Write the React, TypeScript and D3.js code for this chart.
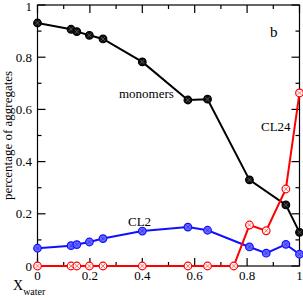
import { useEffect, useRef } from 'react';
import * as d3 from 'd3';

// x values (mole fraction of water) for each series
const xMono = [0, 0.128, 0.15, 0.198, 0.25, 0.4, 0.574, 0.649, 0.809, 0.948, 1.0];
const yMono = [0.931, 0.907, 0.898, 0.884, 0.87, 0.782, 0.636, 0.639, 0.33, 0.234, 0.129];

const xCL2 = [0, 0.128, 0.15, 0.198, 0.25, 0.4, 0.574, 0.649, 0.809, 0.873, 0.948, 1.0];
const yCL2 = [0.068, 0.078, 0.082, 0.092, 0.105, 0.134, 0.149, 0.137, 0.073, 0.049, 0.083, 0.045];

const xCL24 = [0, 0.128, 0.15, 0.198, 0.25, 0.4, 0.574, 0.649, 0.749, 0.809, 0.873, 0.948, 1.0];
const yCL24 = [0, 0, 0, 0, 0, 0, 0, 0, 0, 0.157, 0.135, 0.295, 0.663];

const xTicks = [0, 0.2, 0.4, 0.6, 0.8, 1];
const yTicks = [0, 0.2, 0.4, 0.6, 0.8, 1];

const App = () => {
  const ref = useRef<SVGSVGElement | null>(null);

  useEffect(() => {
    if (!ref.current) return;
    document.body.style.margin = '0';
    const svg = d3.select(ref.current);
    svg.selectAll('*').remove();

    const left = 37.5, right = 299.5, top = 5, bottom = 266;
    const x = d3.scaleLinear().domain([0, 1]).range([left, right]);
    const y = d3.scaleLinear().domain([0, 1]).range([bottom, top]);
    const font = "'Liberation Serif', 'Times New Roman', serif";

    // frame
    svg.append('rect')
      .attr('x', left).attr('y', top)
      .attr('width', right - left).attr('height', bottom - top)
      .attr('fill', 'none').attr('stroke', '#000').attr('stroke-width', 1.2);

    // inward ticks on all four sides
    const minor = d3.range(0, 1.0001, 0.1);
    minor.forEach((v, i) => {
      const len = i % 2 === 0 ? 8 : 4;
      const g = svg.append('g').attr('stroke', '#000').attr('stroke-width', 1.2);
      g.append('line').attr('x1', x(v)).attr('x2', x(v)).attr('y1', bottom).attr('y2', bottom - len);
      g.append('line').attr('x1', x(v)).attr('x2', x(v)).attr('y1', top).attr('y2', top + len);
      g.append('line').attr('y1', y(v)).attr('y2', y(v)).attr('x1', left).attr('x2', left + len);
      g.append('line').attr('y1', y(v)).attr('y2', y(v)).attr('x1', right).attr('x2', right - len);
    });

    svg.selectAll('text.xt').data(xTicks).enter().append('text')
      .attr('x', d => x(d)).attr('y', 280)
      .attr('text-anchor', 'middle')
      .attr('font-family', font).attr('font-size', 13)
      .text(d => d3.format('~g')(d));

    svg.selectAll('text.yt').data(yTicks).enter().append('text')
      .attr('x', 32).attr('y', d => Math.max(y(d) + 4.5, 11))
      .attr('text-anchor', 'end')
      .attr('font-family', font).attr('font-size', 13)
      .text(d => d3.format('~g')(d));

    // axis titles
    svg.append('text')
      .attr('transform', `translate(12, ${(top + bottom) / 2}) rotate(-90)`)
      .attr('text-anchor', 'middle')
      .attr('font-family', font).attr('font-size', 13)
      .text('percentage of aggregates');

    const xl = svg.append('text').attr('x', 13).attr('y', 290)
      .attr('font-family', font).attr('font-size', 14);
    xl.append('tspan').text('X');
    xl.append('tspan').attr('font-size', 10).attr('dy', 5).text('water');

    const line = d3.line<[number, number]>().x(d => x(d[0])).y(d => y(d[1]));

    const series = [
      { xs: xCL2, ys: yCL2, color: '#1010ff', fill: '#6b6bff' },
      { xs: xMono, ys: yMono, color: '#000', fill: '#111' },
      { xs: xCL24, ys: yCL24, color: '#ff0000', fill: '#fff' },
    ];

    series.forEach(s => {
      const pts = s.xs.map((v, i) => [v, s.ys[i]] as [number, number]);
      svg.append('path')
        .attr('d', line(pts))
        .attr('fill', 'none').attr('stroke', s.color).attr('stroke-width', 2);
      const m = svg.append('g');
      pts.forEach(p => {
        const cx = x(p[0]), cy = y(p[1]);
        m.append('circle').attr('cx', cx).attr('cy', cy).attr('r', 3.8)
          .attr('fill', s.fill).attr('stroke', s.color).attr('stroke-width', 1.2);
        m.append('path')
          .attr('d', `M${cx - 2},${cy - 2}L${cx + 2},${cy + 2}M${cx - 2},${cy + 2}L${cx + 2},${cy - 2}`)
          .attr('stroke', s.color === '#000' ? '#888' : s.color)
          .attr('stroke-width', 0.8).attr('opacity', 0.7);
      });
    });

    const labels = [
      { t: 'monomers', x: 119, y: 98, s: 13 },
      { t: 'CL24', x: 261, y: 131, s: 13 },
      { t: 'CL2', x: 128, y: 226, s: 13 },
      { t: 'b', x: 270, y: 37, s: 15 },
    ];
    labels.forEach(l => {
      svg.append('text').attr('x', l.x).attr('y', l.y)
        .attr('font-family', font).attr('font-size', l.s).text(l.t);
    });
  }, []);

  return <svg ref={ref} width={303} height={300} style={{ display: 'block' }} />;
};

export default App;
